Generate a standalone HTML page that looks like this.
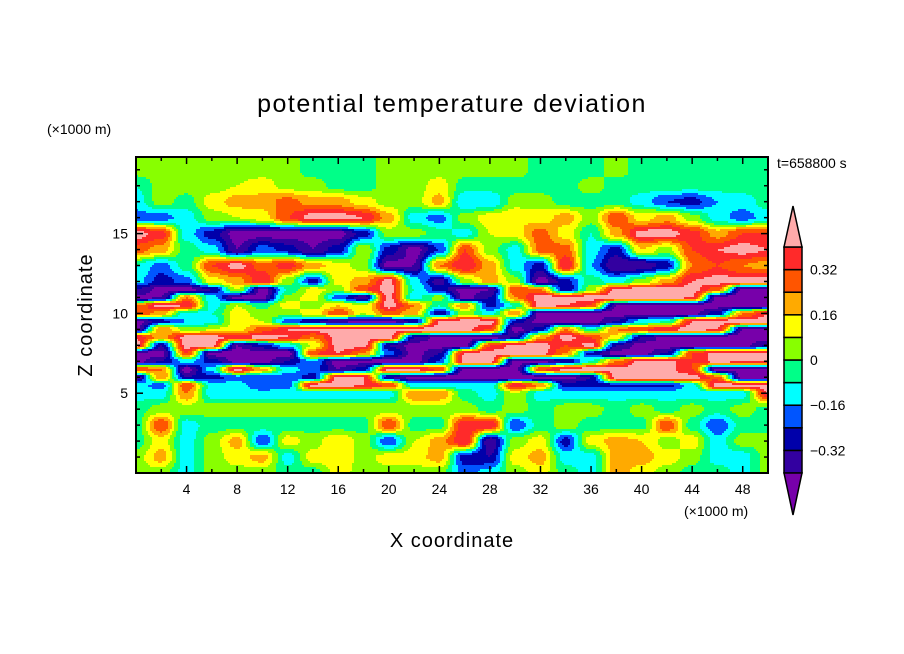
<!DOCTYPE html>
<html><head><meta charset="utf-8"><style>
body{margin:0;background:#fff;}
svg{display:block;font-family:"Liberation Sans",sans-serif;}
</style></head><body>
<svg id="chart" width="904" height="654" viewBox="0 0 904 654">
<rect width="904" height="654" fill="#fff"/>
<text x="452" y="112" text-anchor="middle" font-size="25" letter-spacing="1.5">potential temperature deviation</text>
<text x="47" y="134" font-size="14">(×1000 m)</text>
<text x="777" y="168" font-size="14">t=658800 s</text>
<text x="684" y="516" font-size="14">(×1000 m)</text>
<text x="452" y="547" text-anchor="middle" font-size="20" letter-spacing="1">X coordinate</text>
<text transform="translate(92,315) rotate(-90)" text-anchor="middle" font-size="20" letter-spacing="1">Z coordinate</text>
<g id="field"></g>
<g id="axes"></g>
<g id="cbar"></g>
</svg>
<script>
// grid coordinates (km)
const xGrid = [0,2,4,6,8,10,12,14,16,18,20,22,24,26,28,30,32,34,36,38,40,42,44,46,48,50];
const zGrid = [0,1,2,3,4,5,5.5,6,6.5,7,7.5,8,8.5,9,9.5,10,10.5,11,11.5,12,13,14,15,16,17,18,19,20];
// field values in units of the contour interval (0.08 K), one row per z level
const contourInterval = 0.08;
const r0 = [0.5,0.5,-1.5,0.5,0.5,0.5,-0.5,-0.5,1.5,0.5,0.5,0.5,0.5,-2.5,-1.5,0.5,1.5,-0.5,-1.5,2.5,1.5,0.5,-0.5,-0.5,-1.5,0.5];
const r1 = [0.5,2.5,-1.5,0.5,1.5,2.5,-1.5,1.5,2,0.5,1.5,1.5,2.5,-3.5,-4,1.5,2.5,-1.5,-1.5,2.5,2.5,1.5,0.5,-1.5,-1.5,0.5];
const r2 = [-0.5,1.5,-1.5,0.5,2.5,-3,1.5,0.5,2,0.5,-3,1,2.5,5,-5,0.5,1.5,-3.5,1.5,2.5,2,0.5,1.5,-1.5,0.5,0.5];
const r3 = [-0.5,4,-1.5,-0.5,-0.5,-0.5,-0.5,-0.5,-0.5,-0.5,4,-0.5,-0.5,5,5,-3,-0.5,0.5,-0.5,-0.5,-0.5,4,-0.5,-3,-0.5,-0.5];
const r4 = [-0.5,0.5,0.5,0.5,0.5,0.5,0.5,0.5,0.5,0.5,0.5,0.5,0.5,0.5,-0.5,0.5,-0.5,0.5,0.5,-0.5,0.5,-0.5,0.5,-0.5,0.5,-0.5];
const r5 = [-1.5,-1.5,3,-1.5,-1.5,-1.5,-1.5,-1.5,-1.5,-1.5,-1.5,3,3,-0.5,-1.5,1,-1.5,-1.5,-1.5,-1.5,-1.5,-1.5,-1.5,-1.5,-1.5,5];
const r5h = [-1.5,-2.5,4,-1.5,-1.5,-3,-2.5,5.5,5.5,5,4,-1.5,-1.5,-1.5,-1.5,5,3,-3.5,-3.5,-3.5,-3.5,-3.5,-1.5,5.5,5.5,5.5];
const r6 = [-5,3,-4,-3.5,-2.5,-3,-2.5,-3.5,5.5,5,-4,-5.5,-5.5,-5.5,-5.5,-5.5,-5.5,-5.5,-4,5.5,5.5,5.5,5.5,3.5,-5.5,-5.5];
const r6h = [4,3,-5.5,-1.5,5.5,2.5,-1.5,-2.5,-5,-3.5,5.5,5.5,4,-5.5,-5.5,-5.5,4,5.5,5.5,5.5,5.5,5.5,4,-5.5,-5.5,-5.5];
const r7 = [-5.5,-4,-1.5,-3.5,-5.5,-5.5,-4,-2,-5.5,-5.5,-5.5,-5.5,-3,5.5,5.5,-5.5,-5.5,-4,-1,3,5.5,5.5,4,5.5,5,5];
const r7h = [-5.5,-5.5,4,-5.5,-5.5,-5.5,-5.5,4,5,3,-2.5,-5.5,-4,5,5.5,5.5,5.5,3,-3.5,-5.5,-5.5,-4,4,5.5,5.5,5.5];
const r8 = [5.5,-4,5.5,5.5,-5,-3.5,-1.5,1,5.5,5.5,-4,-5.5,-5.5,-5.5,4,5.5,5.5,4,5.5,-4,-5.5,-5.5,-5.5,-5.5,-5.5,-4];
const r8h = [5,2.5,5.5,5.5,4.5,5.5,5,3,5.5,5.5,5.5,-4,-5.5,-5.5,-5.5,-4,2.5,5.5,4,1.5,-4,-5.5,-5.5,-5.5,-5.5,-5.5];
const r9 = [-5.5,3,0.5,1,1.5,3.5,5,5.5,5.5,5.5,5.5,5.5,5.5,5.5,4,-5.5,-3.5,3,-1,3,4,5,5.5,5,-5,-5.5];
const r9h = [-5.5,-3.5,-2,-1.5,1.5,1,-2.5,-4,-5,-5.5,-5.5,-4,5,5.5,5.5,-3.5,-5.5,-5.5,-5.5,-4,-1.5,-1,5,5.5,5.5,5.5];
const r10 = [4,2.5,-1.5,-1,1.5,0.5,0.5,1.5,4,1,3.5,2.5,-4,0.5,-1.5,3,-5.5,-5.5,-5.5,-5.5,-5.5,-5.5,-5.5,-3.5,3,5];
const r10h = [3,5.5,5,-1.5,1,-0.5,1.5,0.5,2,1,5.5,3,-1,3,-3.5,-1,5.5,5,4,-5,-5.5,-5.5,-5.5,-5.5,-5.5,-5.5];
const r11 = [-5.5,-5,3,-1.5,-5.5,-5.5,0.5,1.5,-2.5,-5,5.5,-1.5,0.5,-5.5,-4,3,5.5,5.5,5.5,5.5,5.5,5.5,5,-5.5,-5.5,-5.5];
const r11h = [-4,-5.5,-5.5,-4,1,-5.5,-1,1.5,0.5,4,5.5,-1,-3.5,-5.5,-5,4,3,-4,0.5,5.5,5.5,5.5,5.5,3.5,-5.5,-5.5];
const r12 = [-1.5,-3.5,-2.5,1.5,2.5,5,0.5,-3.5,1.5,2.5,5.5,-1.5,-4.5,0.5,2.5,0.5,-5.5,-3.5,-0.5,-1.5,0.5,2.5,5,5.5,5.5,5.5];
const r13 = [-1,-2.5,-0.5,4,5.5,3.5,4.5,2.5,1.5,0.5,-5.5,-5,3,5,2.5,-1.5,-3.5,5,-2,-5,-5,-3.5,3,4,3,2.5];
const r14 = [3.5,2.5,-0.5,-1.5,-5,-2.5,-3.5,-5,-3.5,1,-3.5,-5.5,-3,4,0.5,-1.5,3.5,3.5,-1.5,-3.5,2,0.5,4,5,5.5,5];
const r15 = [5.5,4.5,-1.5,-3.5,-5.5,-5.5,-5.5,-5.5,-5.5,-3.5,0.5,0.5,-0.5,-1.5,1,1.5,3.5,1.5,-1,2.5,5.5,5.5,4.5,2.5,4,4];
const r16 = [-2.5,-2.5,-1.5,0.5,1,1.5,4,5.5,5.5,5,2.5,-1.5,-2.5,0.5,1.5,2,1.5,2.5,0.5,4,1.5,2.5,0.5,-1.5,-2.5,-1.5];
const r17 = [-1.5,0.5,-0.5,1.5,2.5,2.5,3.5,2.5,2.5,1.5,0.5,0.5,2.5,-2,-2,0.5,0.5,-0.5,-0.5,-0.5,-1.5,-3,-3.5,-2,-1.5,-0.5];
const r18 = [-1,0.5,0.5,0.5,1,1.5,0.5,0.5,-0.5,-0.5,0.5,0.5,1.5,-0.5,-0.5,-0.5,-0.5,-0.5,0.5,-0.5,-0.5,-0.5,-0.5,-0.5,-0.5,-0.5];
const r19 = [0.5,0.5,0.5,0.5,0.5,0.5,0.5,-0.5,-0.5,-0.5,0.5,0.5,0.5,0.5,0.5,0.5,-0.5,-0.5,-0.5,0.5,-0.5,-0.5,-0.5,-0.5,-0.5,-0.5];
const r20 = [0.5,0.5,0.5,0.5,0.5,0.5,0.5,-0.5,-0.5,-0.5,0.5,0.5,0.5,0.5,0.5,0.5,-0.5,-0.5,-0.5,0.5,-0.5,-0.5,-0.5,-0.5,-0.5,-0.5];
const fieldRows = [r0,r1,r2,r3,r4,r5,r5h,r6,r6h,r7,r7h,r8,r8h,r9,r9h,r10,r10h,r11,r11h,r12,r13,r14,r15,r16,r17,r18,r19,r20];
// contour levels and colors
const levels = [-0.40,-0.32,-0.24,-0.16,-0.08,0,0.08,0.16,0.24,0.32,0.40];
const levelColors = ["#7700aa","#3300a0","#0000aa","#0055ff","#00ffff","#00ff88","#88ff00","#ffff00","#ffaa00","#ff5500","#ff2a2a","#ffaaaa"];
const cbarLabels = ["0.32","0.16","0","−0.16","−0.32"];
const cbarLabelValues = [0.32,0.16,0,-0.16,-0.32];
const xTicks = [4,8,12,16,20,24,28,32,36,40,44,48];
const zTicks = [5,10,15];

const NS="http://www.w3.org/2000/svg";
const PL=136, PR=768, PT=157, PB=473;
const xMin=0, xMax=50, zMin=0, zMax=19.8;
const xs = v => PL + (v-xMin)/(xMax-xMin)*(PR-PL);
const zs = v => PB - (v-zMin)/(zMax-zMin)*(PB-PT);
const xInv = p => xMin + (p-PL)/(PR-PL)*(xMax-xMin);
const zInv = p => zMin + (PB-p)/(PB-PT)*(zMax-zMin);

function findIdx(arr,v){
  let i=0;
  while(i<arr.length-2 && v>arr[i+1]) i++;
  return i;
}
const ease = t => t*t*(3-2*t);
function sample(x,z){
  const i=findIdx(xGrid,x), j=findIdx(zGrid,z);
  const tx = ease(Math.min(1,Math.max(0,(x-xGrid[i])/(xGrid[i+1]-xGrid[i]))));
  const tz = ease(Math.min(1,Math.max(0,(z-zGrid[j])/(zGrid[j+1]-zGrid[j]))));
  const a=fieldRows[j][i], b=fieldRows[j][i+1], c=fieldRows[j+1][i], d=fieldRows[j+1][i+1];
  return ((a*(1-tx)+b*tx)*(1-tz) + (c*(1-tx)+d*tx)*tz)*contourInterval;
}
function colorIndex(v){ let k=0; while(k<levels.length && v>=levels[k]) k++; return k; }

const field=document.getElementById('field');
const step=2;
for(let py=PT; py<PB; py+=step){
  const z=zInv(py+step/2);
  let runStart=PL, runC=-1;
  for(let px=PL; px<=PR; px+=step){
    const c = px<PR ? colorIndex(sample(xInv(px+step/2),z)) : -2;
    if(c!==runC){
      if(runC>=0){
        const r=document.createElementNS(NS,'rect');
        r.setAttribute('x',runStart); r.setAttribute('y',py);
        r.setAttribute('width',Math.min(px,PR)-runStart+0.5); r.setAttribute('height',step+0.5);
        r.setAttribute('fill',levelColors[runC]);
        
        
        field.appendChild(r);
      }
      runStart=px; runC=c;
    }
  }
}

const axes=document.getElementById('axes');
function line(x1,y1,x2,y2,w,name){
  const l=document.createElementNS(NS,'line');
  l.setAttribute('x1',x1);l.setAttribute('y1',y1);l.setAttribute('x2',x2);l.setAttribute('y2',y2);
  l.setAttribute('stroke','#000');l.setAttribute('stroke-width',w);
  
  
  axes.appendChild(l);
}
function text(x,y,s,anchor,name,parent){
  const t=document.createElementNS(NS,'text');
  t.setAttribute('x',x);t.setAttribute('y',y);t.setAttribute('font-size','14');
  t.setAttribute('text-anchor',anchor);t.textContent=s;
  
  
  (parent||axes).appendChild(t);
}
const frame=document.createElementNS(NS,'rect');
frame.setAttribute('x',PL);frame.setAttribute('y',PT);frame.setAttribute('width',PR-PL);frame.setAttribute('height',PB-PT);
frame.setAttribute('fill','none');frame.setAttribute('stroke','#000');frame.setAttribute('stroke-width','2');


axes.appendChild(frame);
for(let v=2; v<50; v+=2){
  const L = v%4===0 ? 7 : 4;
  line(xs(v),PB,xs(v),PB-L,1.5,'x-tick');
  line(xs(v),PT,xs(v),PT+L,1.5,'x-tick-top');
}
for(let v=1; v<20; v++){
  const L = v%5===0 ? 7 : 4;
  line(PL,zs(v),PL+L,zs(v),1.5,'y-tick');
  line(PR,zs(v),PR-L,zs(v),1.5,'y-tick-right');
}
xTicks.forEach(v=>text(xs(v),494,String(v),'middle','x-tick-label'));
zTicks.forEach(v=>text(128,zs(v)+5,String(v),'end','y-tick-label'));

// colorbar
const cb=document.getElementById('cbar');
const CX=784, CW=18, CT=247, CB=473, ATop=206, ABot=515;
const boxH=(CB-CT)/(levels.length-1);
const cbY = v => CB - (v-levels[0])/(levels[levels.length-1]-levels[0])*(CB-CT);
for(let k=1;k<levels.length;k++){
  const r=document.createElementNS(NS,'rect');
  r.setAttribute('x',CX);r.setAttribute('y',cbY(levels[k]));r.setAttribute('width',CW);r.setAttribute('height',boxH);
  r.setAttribute('fill',levelColors[k]);r.setAttribute('stroke','#000');r.setAttribute('stroke-width','1.5');
  
  
  cb.appendChild(r);
}
const up=document.createElementNS(NS,'polygon');
up.setAttribute('points',`${CX},${CT} ${CX+CW},${CT} ${CX+CW/2},${ATop}`);
up.setAttribute('fill',levelColors[levelColors.length-1]);up.setAttribute('stroke','#000');up.setAttribute('stroke-width','1.5');


cb.appendChild(up);
const dn=document.createElementNS(NS,'polygon');
dn.setAttribute('points',`${CX},${CB} ${CX+CW},${CB} ${CX+CW/2},${ABot}`);
dn.setAttribute('fill',levelColors[0]);dn.setAttribute('stroke','#000');dn.setAttribute('stroke-width','1.5');


cb.appendChild(dn);
cbarLabels.forEach((s,i)=>text(810,cbY(cbarLabelValues[i])+5,s,'start','colorbar-label',cb));
</script>
</body></html>
